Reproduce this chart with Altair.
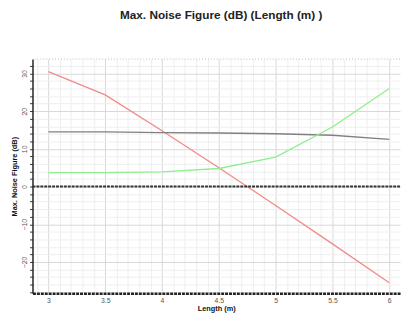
import altair as alt
import pandas as pd

length = [3.0, 3.5, 4.0, 4.5, 5.0, 5.5, 6.0]
red_nf = [30.5, 24.3, 14.8, 5.0, -5.0, -15.2, -25.5]
gray_nf = [14.5, 14.5, 14.3, 14.2, 14.0, 13.6, 12.5]
green_nf = [3.7, 3.7, 3.9, 4.8, 7.8, 15.8, 26.0]

series = ["red", "gray", "green"]
colors = ["#f28b8b", "#808080", "#90ee90"]

rows = []
for name, vals in zip(series, [red_nf, gray_nf, green_nf]):
    for x, y in zip(length, vals):
        rows.append({"len": x, "nf": y, "s": name})
df = pd.DataFrame(rows)

x_vals = [round(2.9 + 0.1 * i, 1) for i in range(32)]
y_vals = list(range(-28, 34, 2))

major_x = "abs(datum.value*2 - round(datum.value*2)) < 0.01"
major_y = "abs(datum.value/10 - round(datum.value/10)) < 0.01"

xs = alt.Scale(domain=[2.86, 6.095], nice=False, zero=False)
ys = alt.Scale(domain=[-28.3, 33.8], nice=False, zero=False)

x_axis = alt.Axis(
    values=x_vals, title="Length (m)", labelExpr=f"{major_x} ? format(datum.value, '~g') : ''",
    labelOverlap=False, labelFontSize=7, labelColor="#555", labelFont="Liberation Sans",
    titleFontSize=7.5, titleFont="Liberation Sans", titleFontWeight="bold", titleColor="#111",
    titlePadding=2, labelPadding=3,
    gridColor={"condition": {"test": major_x, "value": "#d8d8d8"}, "value": "#efefef"},
    tickColor="#333", tickSize=0, domainColor="#222", domainWidth=2.5, domainDash=[3, 1],
)
y_axis = alt.Axis(
    values=y_vals, title="Max. Noise Figure (dB)", labelExpr=f"{major_y} ? format(datum.value, '~g') : ''",
    labelOverlap=False, labelFontSize=7, labelColor="#555", labelFont="Liberation Sans", labelAngle=-90,
    labelAlign="center", labelBaseline="bottom", labelPadding=2,
    titleFontSize=7.5, titleFont="Liberation Sans", titleFontWeight="bold", titleColor="#111", titlePadding=2,
    gridColor={"condition": {"test": major_y, "value": "#d8d8d8"}, "value": "#efefef"},
    tickColor="#333", tickSize=3, domainColor="#222", domainWidth=1.5,
)

lines = alt.Chart(df).mark_line(strokeWidth=1.4, clip=True).encode(
    x=alt.X("len:Q", scale=xs, axis=x_axis),
    y=alt.Y("nf:Q", scale=ys, axis=y_axis),
    color=alt.Color("s:N", scale=alt.Scale(domain=series, range=colors), legend=None),
)

zero_df = pd.DataFrame({"nf": [0]})
zero = alt.Chart(zero_df).mark_rule(color="#333", strokeWidth=2.0, strokeDash=[3, 1]).encode(
    y=alt.Y("nf:Q", scale=ys, axis=y_axis)
)

top = alt.Chart(zero_df).mark_rule(color="#bbb", strokeWidth=1, strokeDash=[1, 2]).encode(
    y=alt.value(0)
)

chart = alt.layer(lines, zero, top).properties(
    width=375, height=239,
    title=alt.TitleParams("Max. Noise Figure (dB) (Length (m) )", fontSize=12, font="Liberation Sans",
                          fontWeight="bold", color="#222", offset=37, dx=5),
    autosize=alt.AutoSizeParams(type="none"),
    padding={"left": 25, "top": 49, "right": 3, "bottom": 20},
).configure_axis(labelOverlap=False).configure_view(stroke=None)

chart.save("out.html", embed_options={"renderer": "svg", "actions": False})
